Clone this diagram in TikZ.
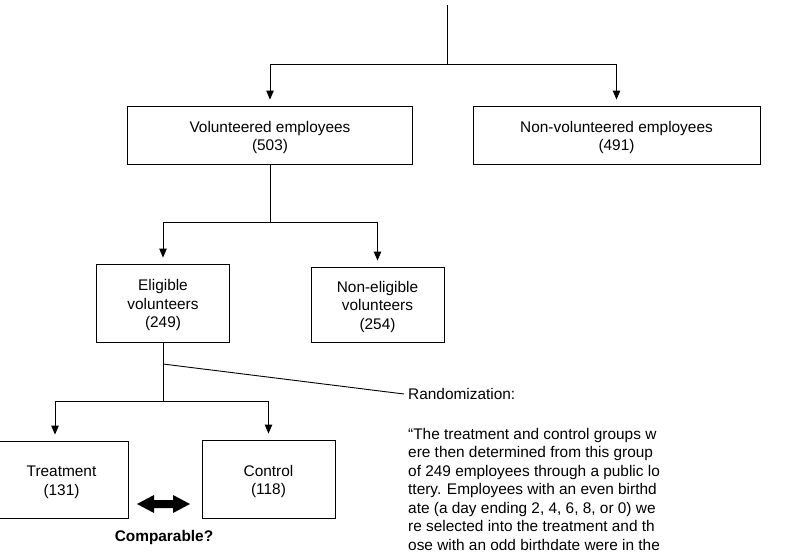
\documentclass[tikz,border=0pt]{standalone}
\usepackage{fontspec}
\setmainfont{Liberation Sans}
\usetikzlibrary{arrows.meta}
\newcommand\tstrut{\rule{0pt}{16pt}}
\begin{document}
\begin{tikzpicture}[x=1pt,y=-1pt,
  box/.style={draw=black,line width=0.9pt,align=center,inner sep=0pt,font=\fontsize{15.4}{18.5}\selectfont},
  conn/.style={line width=0.9pt},
  arr/.style={conn,-{Triangle[length=9pt,width=7.5pt]},shorten >=6pt},
  lbl/.style={inner sep=0pt,font=\fontsize{15.4}{18.5}\selectfont}]
\useasboundingbox (0,0) rectangle (810,557);
% boxes
\node[box,minimum width=285pt,minimum height=58pt] (vol) at (270,135) {\tstrut Volunteered employees\\(503)};
\node[box,minimum width=287pt,minimum height=58pt] (nonvol) at (616.5,135) {\tstrut Non-volunteered employees\\(491)};
\node[box,minimum width=133pt,minimum height=78pt] (elig) at (163,303) {\tstrut Eligible\\volunteers\\(249)};
\node[box,minimum width=133pt,minimum height=75pt] (nonelig) at (377.5,304.5) {\tstrut Non-eligible\\volunteers\\(254)};
\node[box,minimum width=133pt,minimum height=77pt] (treat) at (61.5,479.5) {\tstrut Treatment\\(131)};
\node[box,minimum width=133pt,minimum height=78pt] (ctrl) at (268.5,479) {\tstrut Control\\(118)};
% coordinates
\coordinate (top) at (447,5);
\coordinate (s1) at (447,64);
\coordinate (s2) at (270,222);
\coordinate (s3) at (163,401);
\coordinate (r0) at (163,364);
% connectors
\draw[conn] (top) -- (s1);
\draw[arr] (s1) -| (vol.north);
\draw[arr] (s1) -| (nonvol.north);
\draw[conn] (vol.south) -- (s2);
\draw[arr] (s2) -| (elig.north);
\draw[arr] (s2) -| (nonelig.north);
\draw[conn] (elig.south) -- (s3);
\draw[arr] (s3) -| ([xshift=-6.5pt]treat.north);
\draw[arr] (s3) -| (ctrl.north);
% randomization
\node[lbl,anchor=west] (rand) at (408,394) {Randomization:};
\draw[conn] (r0) -- ([xshift=-4pt]rand.west);
\node[lbl,anchor=north west,align=left] (quote) at (408,428) {%
“The treatment and control groups w\\
ere then determined from this group\\
of 249 employees through a public lo\\
ttery. Employees with an even birthd\\
ate (a day ending 2, 4, 6, 8, or 0) we\\
re selected into the treatment and th\\
ose with an odd birthdate were in the};
% comparable
\fill (137,504) -- (154,495) -- (154,500) -- (173,500) -- (173,495) -- (190,504) -- (173,513) -- (173,508) -- (154,508) -- (154,513) -- cycle;
\node[lbl,font=\fontsize{15.4}{18.5}\selectfont\bfseries] (comp) at (164,538) {Comparable?};
\end{tikzpicture}
\end{document}
